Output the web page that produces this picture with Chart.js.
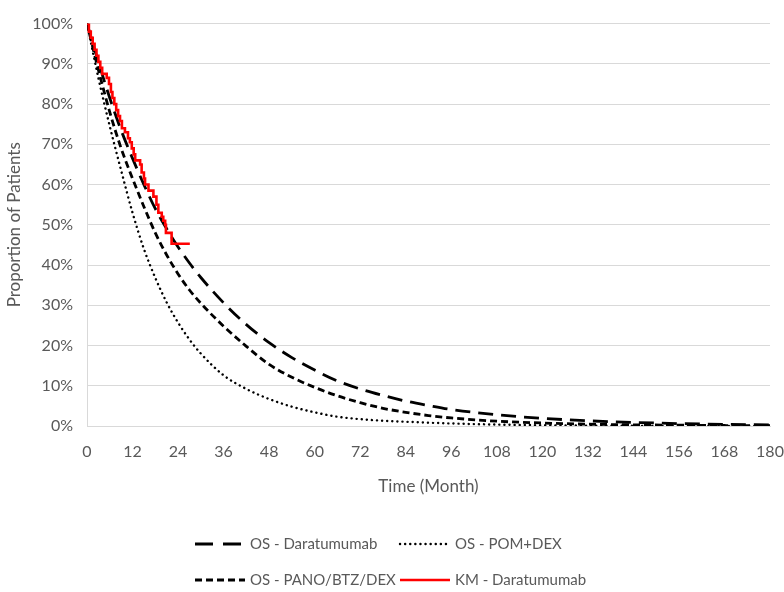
<!DOCTYPE html>
<html>
<head>
<meta charset="utf-8">
<script src="https://cdn.jsdelivr.net/npm/chart.js@4.4.1/dist/chart.umd.min.js"></script>
<style>
  html, body { margin: 0; padding: 0; background: #fff; }
  #wrap { width: 784px; height: 592px; }
</style>
</head>
<body>
<div id="wrap"><canvas id="myChart" width="784" height="592"></canvas></div>
<script>
// data

const osMonths = [0, 3, 6, 9, 12, 15, 18, 21, 24, 27, 30, 36, 42, 48, 54, 60, 66, 72, 78, 84, 90, 96, 108, 120, 132, 144, 156, 168, 180];
const darOS  = [100, 90.5, 81.5, 73.5, 66.5, 60, 54, 49, 44.5, 40.5, 36.9, 30.6, 25.2, 20.7, 17, 13.9, 11.2, 9.2, 7.6, 6.2, 5.1, 4.1, 2.8, 1.9, 1.3, 0.9, 0.6, 0.4, 0.3];
const panoOS = [100, 88.5, 78, 69, 61.5, 54.5, 48, 42.5, 37.8, 33.8, 30.5, 24.8, 19.8, 15.3, 12.1, 9.6, 7.5, 5.8, 4.4, 3.4, 2.6, 2.0, 1.2, 0.75, 0.45, 0.3, 0.2, 0.12, 0.08];
const pomOS  = [100, 86.5, 74.5, 63.5, 53, 44, 36.8, 30.7, 25.7, 21.5, 18, 12.6, 9.2, 6.7, 4.8, 3.4, 2.3, 1.7, 1.3, 1.05, 0.82, 0.63, 0.35, 0.2, 0.1, 0.05, 0.02, 0, 0];

const kmMonths = [0, 0.5, 1, 1.5, 2, 2.5, 3, 3.5, 4, 5.2, 5.8, 6.3, 6.7, 7.2, 7.7, 8.2, 8.7, 9.2, 10, 10.8, 11.3, 11.8, 12.3, 12.7, 14, 14.4, 15, 15.3, 16.2, 17.5, 18.3, 18.8, 19.7, 20.1, 20.6, 20.8, 22.3, 27.1];
const kmDar    = [100, 98, 96.5, 95, 93.5, 92, 90.5, 89, 87.5, 86.5, 85, 83, 81.5, 80, 78.5, 77, 75.8, 74, 73, 71.5, 70.5, 69, 67.5, 66, 65, 63, 61.5, 60, 58.5, 57, 55, 53, 52, 51, 50, 48, 45.3, 45.3];

const seriesNames = ['OS - Daratumumab', 'OS - POM+DEX', 'OS - PANO/BTZ/DEX', 'KM - Daratumumab'];

const textGray = '#595959';
const fontName = 'Lato';

function pts(xs, ys) {
  return xs.map((x, i) => ({ x: x, y: ys[i] }));
}

// legend drawn below the plot in two columns
const legendPlugin = {
  id: 'gridLegend',
  afterDraw(chart) {
    const ctx = chart.ctx;
    const cols = [195, 400];
    const rows = [544, 580];
    chart.data.datasets.forEach((ds, i) => {
      const x = cols[i % 2];
      const y = rows[Math.floor(i / 2)];
      ctx.save();
      ctx.strokeStyle = ds.borderColor;
      ctx.lineWidth = ds.borderWidth;
      ctx.lineCap = ds.borderCapStyle || 'butt';
      ctx.setLineDash(ds.legendDash || ds.borderDash || []);
      ctx.beginPath();
      ctx.moveTo(x, y);
      ctx.lineTo(x + 50, y);
      ctx.stroke();
      ctx.setLineDash([]);
      ctx.fillStyle = textGray;
      ctx.font = '15px ' + fontName;
      ctx.textBaseline = 'middle';
      ctx.fillText(ds.label, x + 55, y);
      ctx.restore();
    });
  }
};

const ctx = document.getElementById('myChart').getContext('2d');
const myChart = new Chart(ctx, {
  type: 'line',
  data: {
    datasets: [
      {
        label: seriesNames[0],
        data: pts(osMonths, darOS),
        borderColor: '#000',
        borderWidth: 2.8,
        borderDash: [15, 8],
        legendDash: [18, 10],
        pointRadius: 0,
        cubicInterpolationMode: 'monotone',
        order: 3,
      },
      {
        label: seriesNames[1],
        data: pts(osMonths, pomOS),
        borderColor: '#000',
        borderWidth: 2.4,
        borderDash: [0.1, 5],
        borderCapStyle: 'round',
        pointRadius: 0,
        cubicInterpolationMode: 'monotone',
        order: 4,
      },
      {
        label: seriesNames[2],
        data: pts(osMonths, panoOS),
        borderColor: '#000',
        borderWidth: 2.8,
        borderDash: [7, 4],
        pointRadius: 0,
        cubicInterpolationMode: 'monotone',
        order: 2,
      },
      {
        label: seriesNames[3],
        data: pts(kmMonths, kmDar),
        borderColor: '#ff0000',
        borderWidth: 2.6,
        stepped: true,
        pointRadius: 0,
        order: 1,
      },
    ]
  },
  options: {
    responsive: false,
    animation: false,
    layout: {
      padding: { left: 0, top: 16, right: 14, bottom: 91 }
    },
    plugins: {
      legend: { display: false },
      tooltip: { enabled: false },
    },
    scales: {
      x: {
        type: 'linear',
        min: 0,
        max: 180,
        // let the last label run to the canvas edge like the original
        afterFit: (scale) => { scale.height = 75; scale.paddingRight = 0; },
        ticks: {
          stepSize: 12,
          color: textGray,
          font: { family: fontName, size: 16 },
          padding: 16,
          maxRotation: 0,
        },
        grid: { display: false, drawTicks: false },
        border: { color: '#d9d9d9' },
        title: {
          display: true,
          text: 'Time (Month)',
          color: textGray,
          font: { family: fontName, size: 17 },
        },
      },
      y: {
        min: 0,
        max: 100,
        afterFit: (scale) => { scale.width = 87; },
        ticks: {
          stepSize: 10,
          color: textGray,
          font: { family: fontName, size: 16 },
          padding: 14,
          callback: (v) => v + '%',
        },
        grid: { color: '#d9d9d9', drawTicks: false },
        border: { color: '#d9d9d9' },
        title: {
          display: true,
          text: 'Proportion of Patients',
          color: textGray,
          font: { family: fontName, size: 17 },
        },
      },
    }
  },
  plugins: [legendPlugin]
});
</script>
</body>
</html>
